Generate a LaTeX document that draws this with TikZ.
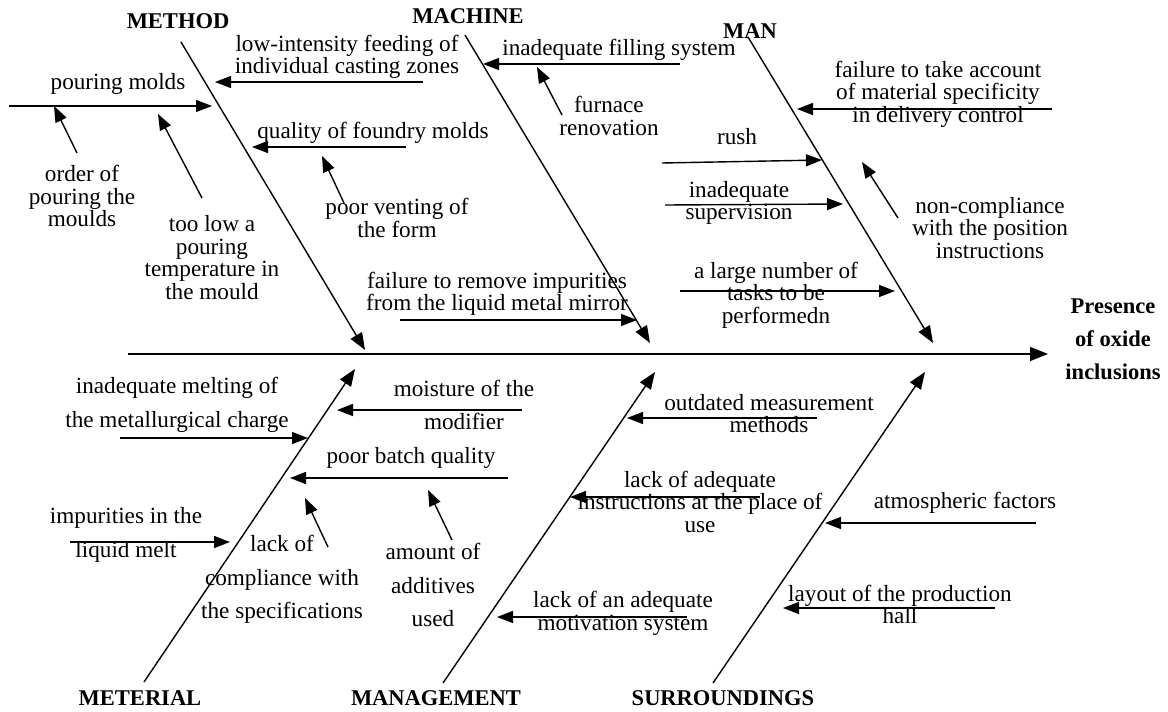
\documentclass[tikz,border=0pt]{standalone}
\usepackage{fontspec}
\setmainfont{Liberation Serif}
\usetikzlibrary{arrows.meta}
\newcommand{\txtfont}{\fontsize{23.2}{22.5}\selectfont}
\newcommand{\widefont}{\fontsize{23.2}{33.5}\selectfont}
\newcommand{\catfont}{\fontsize{22.5}{22}\selectfont\bfseries}
\tikzset{
  bone/.style={line width=1.4pt, -{Triangle[length=17pt,width=13pt]}},
  spine/.style={line width=1.4pt, -{Triangle[length=18pt,width=14pt]}},
  cause/.style={line width=1.4pt, -{Triangle[length=16pt,width=12pt]}},
  lbl/.style={font=\txtfont, align=center, inner sep=0pt},
  wlbl/.style={font=\widefont, align=center, inner sep=0pt},
  cat/.style={font=\catfont, inner sep=0pt},
  headlbl/.style={font=\fontsize{22.5}{33}\selectfont\bfseries, align=center, inner sep=0pt}
}
\begin{document}
\begin{tikzpicture}[x=1pt,y=-1pt]
\useasboundingbox (0,0) rectangle (1168,712);
% ---- spine and bones
\coordinate (sp0) at (128,354);
\coordinate (sp1) at (1048,354);
\coordinate (me0) at (181,42);   \coordinate (me1) at (365,350);
\coordinate (mc0) at (465,35);   \coordinate (mc1) at (650,343);
\coordinate (mn0) at (748,37);   \coordinate (mn1) at (933,343);
\coordinate (mt0) at (144,682);  \coordinate (mt1) at (355,369);
\coordinate (mg0) at (443,683);  \coordinate (mg1) at (655,372);
\coordinate (su0) at (713,683);  \coordinate (su1) at (925,372);
\draw[spine] (sp0) -- (sp1);
\draw[bone] (me0) -- (me1);
\draw[bone] (mc0) -- (mc1);
\draw[bone] (mn0) -- (mn1);
\draw[bone] (mt0) -- (mt1);
\draw[bone] (mg0) -- (mg1);
\draw[bone] (su0) -- (su1);
% ---- category labels
\node[cat] (lmethod) at (178,21) {METHOD};
\node[cat] (lmachine) at (468,16) {MACHINE};
\node[cat] (lman) at (750,31) {MAN};
\node[cat] (lmat) at (140,698) {METERIAL};
\node[cat] (lmgt) at (436,698) {MANAGEMENT};
\node[cat] (lsur) at (723,698) {SURROUNDINGS};
\node[headlbl] (head) at (1113,339) {Presence\\of oxide\\inclusions};
% ---- METHOD causes
\node[lbl] (t1) at (118,84) {pouring molds};
\coordinate (a1s) at (9,106); \coordinate (a1e) at (212,106);
\draw[cause] (a1s) -- (a1e);
\node[lbl] (t2) at (82,196) {order of\\pouring the\\moulds};
\coordinate (a2s) at (77,153); \coordinate (a2e) at (54,106);
\draw[cause] (a2s) -- (a2e);
\node[lbl] (t3) at (212,257.5) {too low a\\pouring\\temperature in\\the mould};
\coordinate (a3s) at (202,198); \coordinate (a3e) at (158,114);
\draw[cause] (a3s) -- (a3e);
\node[lbl] (t4) at (347,57) {low-intensity feeding of\\individual casting zones};
\coordinate (a4s) at (423,82); \coordinate (a4e) at (215,82);
\draw[cause] (a4s) -- (a4e);
\node[lbl] (t5) at (373,133) {quality of foundry molds};
\coordinate (a5s) at (406,147); \coordinate (a5e) at (252,147);
\draw[cause] (a5s) -- (a5e);
\node[lbl] (t6) at (397,218) {poor venting of\\the form};
\coordinate (a6s) at (344,203); \coordinate (a6e) at (322,156);
\draw[cause] (a6s) -- (a6e);
% ---- MACHINE causes
\node[lbl] (t7) at (619,50) {inadequate filling system};
\coordinate (a7s) at (680,64); \coordinate (a7e) at (483,64);
\draw[cause] (a7s) -- (a7e);
\node[lbl] (t8) at (609,116) {furnace\\renovation};
\coordinate (a8s) at (562,115); \coordinate (a8e) at (537,67);
\draw[cause] (a8s) -- (a8e);
\node[lbl] (t9) at (497,294) {failure to remove impurities\\from the liquid metal mirror};
\coordinate (a9s) at (400,320); \coordinate (a9e) at (637,320);
\draw[cause] (a9s) -- (a9e);
% ---- MAN causes
\node[lbl] (t10) at (938,94) {failure to take account\\of material specificity\\in delivery control};
\coordinate (a10s) at (1052,109); \coordinate (a10e) at (797,109);
\draw[cause] (a10s) -- (a10e);
\node[lbl] (t11) at (737,137) {rush};
\coordinate (a11s) at (662,163); \coordinate (a11e) at (822,160);
\draw[cause] (a11s) -- (a11e);
\node[lbl] (t12) at (739,203) {inadequate\\supervision};
\coordinate (a12s) at (665,205); \coordinate (a12e) at (843,204);
\draw[cause] (a12s) -- (a12e);
\node[lbl] (t13) at (776,295) {a large number of\\tasks to be\\performedn};
\coordinate (a13s) at (680,291); \coordinate (a13e) at (895,291);
\draw[cause] (a13s) -- (a13e);
\node[lbl] (t14) at (990,228) {non-compliance\\with the position\\instructions};
\coordinate (a14s) at (898,218); \coordinate (a14e) at (862,162);
\draw[cause] (a14s) -- (a14e);
% ---- MATERIAL causes
\node[wlbl] (t15) at (177,405) {inadequate melting of\\the metallurgical charge};
\coordinate (a15s) at (120,438); \coordinate (a15e) at (308,438);
\draw[cause] (a15s) -- (a15e);
\node[wlbl] (t16) at (126,535) {impurities in the\\liquid melt};
\coordinate (a16s) at (70,542); \coordinate (a16e) at (230,542);
\draw[cause] (a16s) -- (a16e);
\node[wlbl] (t17) at (282,579.5) {lack of\\compliance with\\the specifications};
\coordinate (a17s) at (328,547); \coordinate (a17e) at (305,498);
\draw[cause] (a17s) -- (a17e);
\node[wlbl] (t18) at (464,405) {moisture of the\\modifier};
\coordinate (a18s) at (522,410); \coordinate (a18e) at (337,410);
\draw[cause] (a18s) -- (a18e);
\node[lbl] (t19) at (411,458) {poor batch quality};
\coordinate (a19s) at (508,478); \coordinate (a19e) at (290,478);
\draw[cause] (a19s) -- (a19e);
\node[wlbl] (t20) at (433,585) {amount of\\additives\\used};
\coordinate (a20s) at (452,540); \coordinate (a20e) at (428,490);
\draw[cause] (a20s) -- (a20e);
% ---- MANAGEMENT causes
\node[lbl] (t21) at (769,413.5) {outdated measurement\\methods};
\coordinate (a21s) at (817,418); \coordinate (a21e) at (627,418);
\draw[cause] (a21s) -- (a21e);
\node[lbl] (t22) at (700,501.5) {lack of adequate\\instructions at the place of\\use};
\coordinate (a22s) at (760,497); \coordinate (a22e) at (570,497);
\draw[cause] (a22s) -- (a22e);
\node[lbl] (t23) at (623,613.5) {lack of an adequate\\motivation system};
\coordinate (a23s) at (687,617); \coordinate (a23e) at (497,617);
\draw[cause] (a23s) -- (a23e);
% ---- SURROUNDINGS causes
\node[lbl] (t24) at (965,503) {atmospheric factors};
\coordinate (a24s) at (1036,523); \coordinate (a24e) at (825,523);
\draw[cause] (a24s) -- (a24e);
\node[lbl] (t25) at (900,604.5) {layout of the production\\hall};
\coordinate (a25s) at (995,608); \coordinate (a25e) at (783,608);
\draw[cause] (a25s) -- (a25e);
\end{tikzpicture}
\end{document}
